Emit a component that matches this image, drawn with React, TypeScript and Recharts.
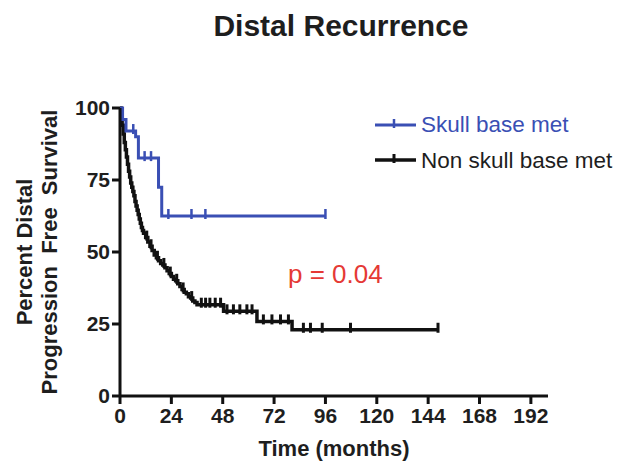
import React from 'react';
import { ComposedChart, Line, XAxis, YAxis } from 'recharts';

// [months, percent survival, censored]
const skullBase: [number, number, number][] = [
  [0, 100, 0],
  [1.2, 96, 0],
  [2.8, 92, 0],
  [6.2, 92, 1],
  [7.3, 90, 0],
  [8.6, 82.6, 0],
  [11.5, 82.6, 1],
  [14.5, 82.6, 1],
  [18, 72.5, 0],
  [19.5, 62.5, 0],
  [22.6, 62.5, 1],
  [33.4, 62.5, 1],
  [39.9, 62.5, 1],
  [96, 62.5, 1],
];

const nonSkullBase: [number, number, number][] = [
  [0, 100, 0], [0.5, 97, 0], [1, 94, 0], [1.5, 91, 0], [2, 88, 0],
  [2.5, 85.5, 0], [3, 83, 0], [3.5, 80.5, 0], [4, 78, 0], [4.5, 76, 0],
  [5, 74, 0], [5.5, 72.5, 0], [6, 71, 0], [6.5, 69.5, 0], [7, 67.5, 0],
  [7.5, 66, 0], [8, 64.5, 0], [8.5, 63, 0], [9, 61.5, 0], [9.5, 60, 0],
  [10, 58.5, 0], [10.5, 57.5, 0], [11, 56.5, 0], [12, 55, 0], [12.5, 55, 1],
  [13, 53.5, 0], [14, 52, 0], [14.5, 52, 1], [15, 50.5, 0], [16, 49, 0],
  [17, 48, 0], [17.5, 48, 1], [18, 47, 0], [19, 46, 0], [20, 45.5, 0],
  [20.5, 45.5, 1], [21, 44.5, 0], [22, 43.5, 0], [23, 42.5, 0], [23.5, 42.5, 1],
  [24, 41.5, 0], [25, 40.5, 0], [26, 40, 0], [26.5, 40, 1], [27, 39, 0],
  [28, 38, 0], [29, 37, 0], [29.5, 37, 1], [30, 36, 0], [31, 35.5, 0],
  [32, 34.5, 0], [33, 34, 0], [33.5, 34, 1], [34, 33, 0], [35, 32.5, 0],
  [36, 31.7, 0], [38, 31.7, 1], [40, 31.7, 1], [42, 31.7, 1], [44.5, 31.7, 1],
  [47, 31.7, 1], [48.4, 29.4, 0], [50, 29.4, 1], [53, 29.4, 1], [56, 29.4, 1],
  [59.3, 29.4, 1], [61.7, 29.4, 1], [64, 25.9, 0], [67, 25.9, 1], [71, 25.9, 1],
  [75, 25.9, 1], [78.7, 25.9, 1], [80.4, 23, 0], [85.7, 23, 1], [89, 23, 1],
  [94.5, 23, 1], [107.7, 23, 1], [148.6, 23, 1],
];

const xTicks = [0, 24, 48, 72, 96, 120, 144, 168, 192];
const yTicks = [0, 25, 50, 75, 100];

const BLUE = '#3a4fb4';
const BLACK = '#111111';
const FONT = '"Liberation Sans", Arial, Helvetica, sans-serif';

const toRows = (arr: [number, number, number][]) =>
  arr.map(([t, s, c]) => ({ t, s, c }));

// censored observations drawn as small vertical ticks
const censorTick = (color: string, w: number) => (props: any) => {
  const { cx, cy, payload, index } = props;
  if (!payload || !payload.c || cx == null || cy == null) {
    return <g key={`n-${index}`} />;
  }
  return (
    <line
      key={`c-${index}`}
      x1={cx}
      x2={cx}
      y1={cy - 7}
      y2={cy + 3}
      stroke={color}
      strokeWidth={w}
    />
  );
};

export default function App() {
  const tickStyle = { fontSize: 21, fontWeight: 'bold' as const, fill: '#1e1e1e', fontFamily: FONT };

  return (
    <div style={{ position: 'absolute', left: 0, top: 0, width: 625, height: 465, background: '#fff' }}>
      <ComposedChart width={625} height={465} margin={{ top: 108, right: 77, bottom: 0, left: 0 }}>
        <XAxis
          type="number"
          dataKey="t"
          domain={[0, 200]}
          ticks={xTicks}
          allowDataOverflow
          height={69}
          tickSize={8}
          tickMargin={4}
          tick={tickStyle}
          axisLine={{ stroke: BLACK, strokeWidth: 3 }}
          tickLine={{ stroke: BLACK, strokeWidth: 3 }}
        />
        <YAxis
          type="number"
          dataKey="s"
          domain={[0, 100]}
          ticks={yTicks}
          width={120}
          tickSize={8}
          tickMargin={2}
          tick={tickStyle}
          axisLine={{ stroke: BLACK, strokeWidth: 3 }}
          tickLine={{ stroke: BLACK, strokeWidth: 3 }}
        />
        <Line
          data={toRows(nonSkullBase)}
          dataKey="s"
          type="stepAfter"
          stroke={BLACK}
          strokeWidth={3.5}
          dot={censorTick(BLACK, 3)}
          activeDot={false}
          isAnimationActive={false}
        />
        <Line
          data={toRows(skullBase)}
          dataKey="s"
          type="stepAfter"
          stroke={BLUE}
          strokeWidth={3}
          dot={censorTick(BLUE, 2.5)}
          activeDot={false}
          isAnimationActive={false}
        />

        <text x={341} y={36} textAnchor="middle" fontFamily={FONT} fontWeight="bold" fontSize={30} fill="#1e1e1e">
          Distal Recurrence
        </text>
        <text x={334} y={456} textAnchor="middle" fontFamily={FONT} fontWeight="bold" fontSize={22} fill="#1e1e1e">
          Time (months)
        </text>
        <text
          transform="translate(32,252) rotate(-90)"
          textAnchor="middle"
          fontFamily={FONT}
          fontWeight="bold"
          fontSize={22}
          fill="#1e1e1e"
        >
          Percent Distal
        </text>
        <text
          transform="translate(57,252) rotate(-90)"
          textAnchor="middle"
          fontFamily={FONT}
          fontWeight="bold"
          fontSize={22}
          fill="#1e1e1e"
          style={{ whiteSpace: 'pre' }}
        >
          {'Progression  Free  Survival'}
        </text>

        <line x1={375} x2={416} y1={125} y2={125} stroke={BLUE} strokeWidth={3} />
        <line x1={394} x2={394} y1={119} y2={128} stroke={BLUE} strokeWidth={2.5} />
        <text x={421} y={132} fontFamily={FONT} fontSize={22.5} fill={BLUE}>
          Skull base met
        </text>
        <line x1={375} x2={416} y1={160} y2={160} stroke={BLACK} strokeWidth={3.5} />
        <line x1={394} x2={394} y1={154} y2={163} stroke={BLACK} strokeWidth={3} />
        <text x={421} y={168} fontFamily={FONT} fontSize={22.5} fill="#1e1e1e">
          Non skull base met
        </text>

        <text x={288} y={283} fontFamily={FONT} fontSize={26} fill="#e53935">
          p = 0.04
        </text>
      </ComposedChart>
    </div>
  );
}
